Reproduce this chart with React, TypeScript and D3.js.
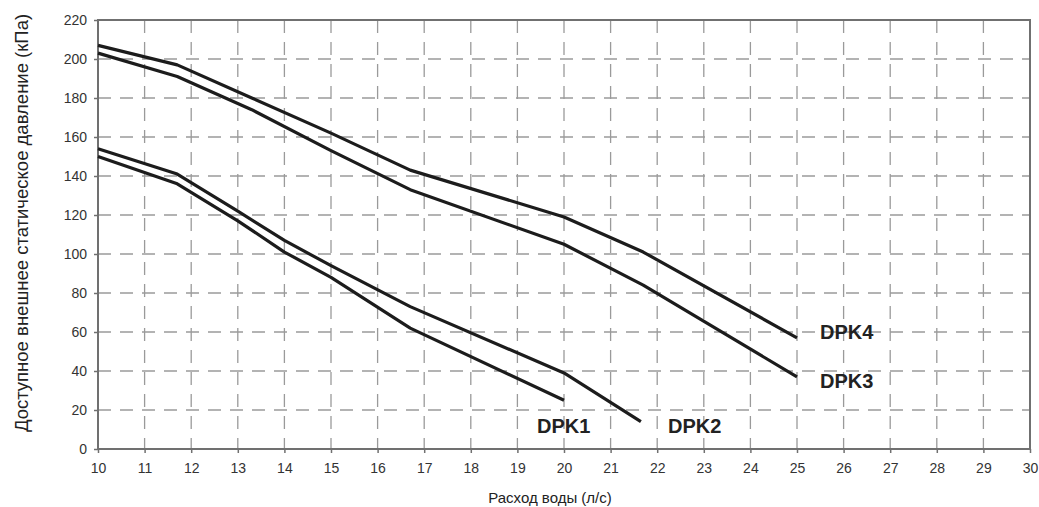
import * as d3 from "d3";
import { useEffect, useRef } from "react";

// flow (l/s) vs available external static pressure (kPa)
const dpk1 = [[10, 150], [11.7, 136], [13, 117], [14, 101], [15, 88], [16.7, 62], [20, 25]];
const dpk2 = [[10, 154], [11.7, 141], [13, 122], [14, 107], [15, 94], [16.7, 73], [20, 39], [21.65, 14]];
const dpk3 = [[10, 203], [11.7, 191], [13.3, 174], [15, 153], [16.7, 133], [20, 105], [21.7, 84], [25, 37]];
const dpk4 = [[10, 207], [11.7, 197], [13.3, 180], [15, 162], [16.7, 143], [20, 119], [21.7, 101], [25, 57]];

const seriesNames = ["DPK1", "DPK2", "DPK3", "DPK4"];
const xTicks = d3.range(10, 31, 1);
const yTicks = d3.range(0, 221, 20);

export default function App() {
  const svgRef = useRef<SVGSVGElement | null>(null);

  useEffect(() => {
    if (!svgRef.current) return;
    const svg = d3.select(svgRef.current);
    svg.selectAll("*").remove();

    const width = 1039;
    const height = 507;
    const left = 98, right = 1030, top = 20, bottom = 449;
    const font = "'Liberation Sans', Arial, sans-serif";

    const x = d3.scaleLinear().domain([10, 30]).range([left, right]);
    const y = d3.scaleLinear().domain([0, 220]).range([bottom, top]);

    svg.attr("width", width).attr("height", height).attr("viewBox", [0, 0, width, height]);

    svg.append("rect").attr("width", width).attr("height", height).attr("fill", "#fff");

    // dashed grid
    const grid = svg.append("g").attr("stroke", "#9a9a9a").attr("stroke-width", 1.3).attr("stroke-dasharray", "13,9");
    grid.selectAll("line.v")
      .data(xTicks.filter(d => d > 10 && d < 30))
      .join("line")
      .attr("class", "v")
      .attr("x1", d => x(d)).attr("x2", d => x(d))
      .attr("y1", top).attr("y2", bottom);
    grid.selectAll("line.h")
      .data(yTicks.filter(d => d > 0 && d < 220))
      .join("line")
      .attr("class", "h")
      .attr("y1", d => y(d)).attr("y2", d => y(d))
      .attr("x1", left).attr("x2", right);

    // frame
    svg.append("rect")
      .attr("x", left).attr("y", top)
      .attr("width", right - left).attr("height", bottom - top)
      .attr("fill", "none").attr("stroke", "#707070").attr("stroke-width", 2);

    // axes
    svg.append("g")
      .attr("transform", `translate(0,${bottom})`)
      .call(d3.axisBottom(x).tickValues(xTicks).tickSize(4).tickPadding(10).tickFormat(d3.format("d")))
      .call(g => g.select(".domain").remove())
      .call(g => g.selectAll("line").attr("stroke", "#707070").attr("stroke-width", 1.5))
      .call(g => g.selectAll("text").attr("fill", "#333").attr("font-size", 14).attr("font-family", font));

    svg.append("g")
      .attr("transform", `translate(${left},0)`)
      .call(d3.axisLeft(y).tickValues(yTicks).tickSize(4).tickPadding(7).tickFormat(d3.format("d")))
      .call(g => g.select(".domain").remove())
      .call(g => g.selectAll("line").attr("stroke", "#707070").attr("stroke-width", 1.5))
      .call(g => g.selectAll("text").attr("fill", "#333").attr("font-size", 14).attr("font-family", font));

    // curves
    const line = d3.line<number[]>().x(d => x(d[0])).y(d => y(d[1])).curve(d3.curveLinear);
    svg.append("g")
      .selectAll("path")
      .data([dpk1, dpk2, dpk3, dpk4])
      .join("path")
      .attr("d", d => line(d))
      .attr("fill", "none")
      .attr("stroke", "#1c1c1c")
      .attr("stroke-width", 3.2)
      .attr("stroke-linejoin", "round");

    // series labels
    const labelX = [537, 668, 820, 820];
    const labelY = [433, 433, 388, 339];
    svg.append("g")
      .selectAll("text")
      .data(seriesNames)
      .join("text")
      .attr("x", (d, i) => labelX[i])
      .attr("y", (d, i) => labelY[i])
      .attr("font-family", font)
      .attr("font-weight", "bold")
      .attr("font-size", 20)
      .attr("fill", "#222")
      .text(d => d);

    // axis titles
    svg.append("text")
      .attr("x", 550).attr("y", 503)
      .attr("text-anchor", "middle")
      .attr("font-family", font)
      .attr("font-size", 15)
      .attr("fill", "#222")
      .text("Расход воды (л/с)");

    svg.append("text")
      .attr("transform", `translate(28,223) rotate(-90)`)
      .attr("text-anchor", "middle")
      .attr("font-family", font)
      .attr("font-size", 18.5)
      .attr("fill", "#222")
      .text("Доступное внешнее статическое давление (кПа)");
  }, []);

  return <svg ref={svgRef} style={{ position: "absolute", left: 0, top: 0, display: "block" }}></svg>;
}
